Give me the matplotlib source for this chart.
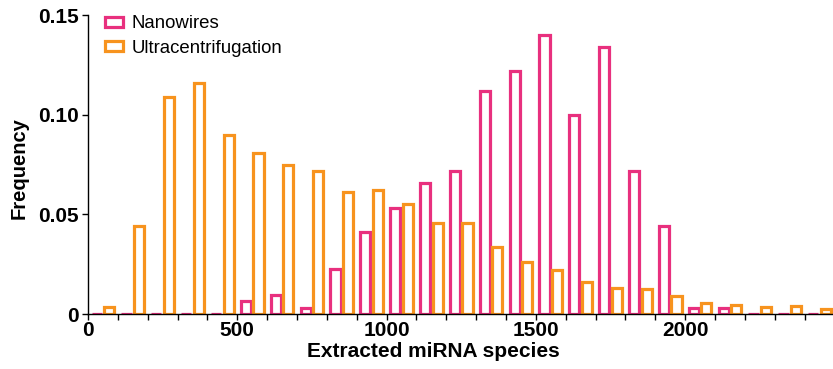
import matplotlib.pyplot as plt
import numpy as np

plt.rcParams['font.family'] = ['Liberation Sans', 'DejaVu Sans']

# bin centres (bin width 100 miRNA species)
bin_centers = np.arange(50, 2500, 100)

nanowires = [0, 0, 0, 0, 0, 0.0067, 0.0097, 0.003, 0.0225, 0.041,
             0.053, 0.066, 0.072, 0.112, 0.122, 0.140, 0.100, 0.134, 0.072, 0.044,
             0.003, 0.003, 0, 0, 0]
ultracentrifugation = [0.0035, 0.044, 0.109, 0.116, 0.090, 0.081, 0.075, 0.072, 0.061, 0.062,
                       0.055, 0.0457, 0.0457, 0.0336, 0.026, 0.022, 0.016, 0.013, 0.0125, 0.009,
                       0.0055, 0.0045, 0.0035, 0.004, 0.0025]

pink = "#e8307e"
orange = "#f7931e"

fig = plt.figure(figsize=(8.33, 3.69), dpi=100)
ax = fig.add_axes([0.1056, 0.149, 0.8944, 0.81])

bw = 34
ax.bar(bin_centers - 21, nanowires, width=bw, facecolor="white", edgecolor=pink,
       linewidth=2.3, label="Nanowires")
ax.bar(bin_centers + 21, ultracentrifugation, width=bw, facecolor="white", edgecolor=orange,
       linewidth=2.3, label="Ultracentrifugation")

ax.set_xlim(0, 2495)
ax.set_ylim(0, 0.15)
ax.set_xticks([0, 500, 1000, 1500, 2000])
ax.set_xticklabels(["0", "500", "1000", "1500", "2000"])
ax.set_xticks(np.arange(0, 2500, 100), minor=True)
ax.set_yticks([0, 0.05, 0.10, 0.15])
ax.set_yticklabels(["0", "0.05", "0.10", "0.15"])
ax.tick_params(axis="both", which="major", labelsize=15, length=4.5, width=1,
               direction="out", pad=2)
ax.tick_params(axis="x", which="major", length=4, pad=1)
ax.tick_params(axis="x", which="minor", length=4, width=1)
for lbl in ax.get_xticklabels() + ax.get_yticklabels():
    lbl.set_fontweight("bold")

ax.spines["top"].set_visible(False)
ax.spines["right"].set_visible(False)
ax.spines["left"].set_linewidth(1)
ax.spines["bottom"].set_linewidth(1)

ax.set_xlabel("Extracted miRNA species", fontsize=15, fontweight="bold")
ax.xaxis.set_label_coords(0.463, -0.094)
ax.set_ylabel("Frequency", fontsize=14.5, fontweight="bold")
ax.yaxis.set_label_coords(-0.08, 0.49)

ax.legend(loc="upper left", bbox_to_anchor=(0.001, 1.055), frameon=False, fontsize=13.4,
          handlelength=0.95, handleheight=0.45, handletextpad=0.45, labelspacing=0.4)

plt.savefig("out.png", dpi=100)
